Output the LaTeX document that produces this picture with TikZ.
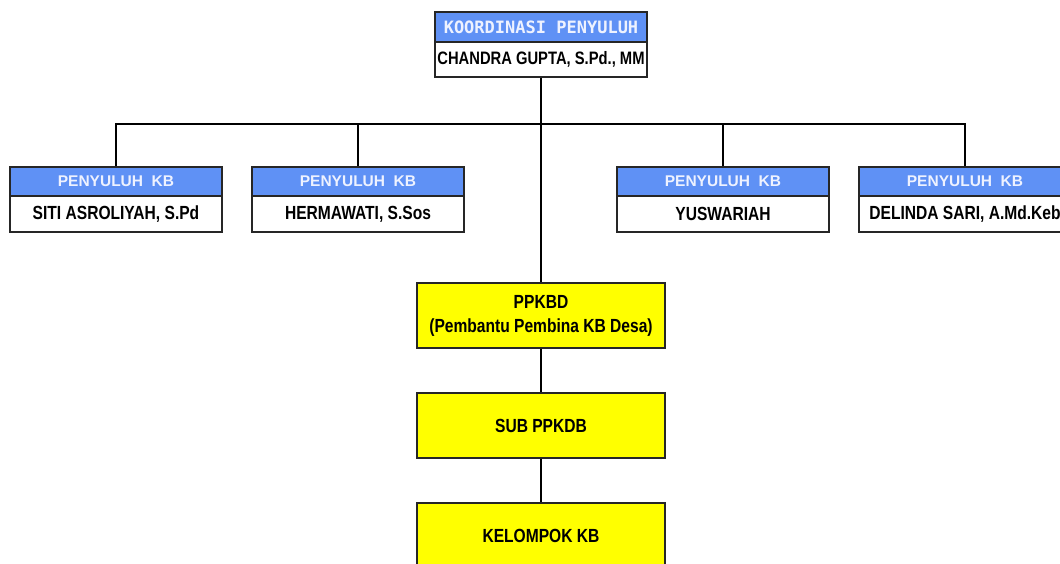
\documentclass[tikz,border=0pt]{standalone}
\usepackage{fontspec}
\newfontfamily\narrowsans[FakeStretch=0.82]{Liberation Sans}
\newfontfamily\headsans{Liberation Sans}
\newfontfamily\headmono{DejaVu Sans Mono}
\definecolor{headblue}{RGB}{95,145,245}
\definecolor{headtext}{RGB}{238,242,255}
\definecolor{boxyellow}{RGB}{255,255,0}
\tikzset{every node/.style={draw=black!85,line width=1.2pt,inner sep=0pt,minimum width=212pt},
  headbox/.style={fill=headblue,text=headtext,font=\headsans\bfseries\fontsize{15.5}{16}\selectfont,minimum height=29pt},
  namebox/.style={fill=white,font=\narrowsans\bfseries\fontsize{19}{20}\selectfont,minimum height=36pt},
  unitbox/.style={fill=boxyellow,font=\narrowsans\bfseries\fontsize{19}{24}\selectfont,align=center,minimum width=248pt,minimum height=65pt}}

\begin{document}
\begin{tikzpicture}[x=1pt,y=-1pt,line width=1.5pt]
  \useasboundingbox (0,0) rectangle (1060,563);
  \clip (0,0) rectangle (1060,563);
      \node[headbox,font=\headmono\bfseries\fontsize{17}{18}\selectfont,minimum height=30pt] (hk) at (541,27) {KOORDINASI PENYULUH};
      \node[namebox,font=\narrowsans\bfseries\fontsize{18}{19}\selectfont,minimum height=35pt] (bk) at (541,59.5) {CHANDRA GUPTA, S.Pd., MM};
      \node[headbox] (h1) at (116,181.5) {PENYULUH\ \ KB};
      \node[namebox] (b1) at (116,214) {SITI ASROLIYAH, S.Pd};
      \node[headbox] (h2) at (358,181.5) {PENYULUH\ \ KB};
      \node[namebox] (b2) at (358,214) {HERMAWATI, S.Sos};
      \node[headbox] (h3) at (723,181.5) {PENYULUH\ \ KB};
      \node[namebox] (b3) at (723,214) {YUSWARIAH};
      \node[headbox] (h4) at (965,181.5) {PENYULUH\ \ KB};
      \node[namebox] (b4) at (965,214) {DELINDA SARI, A.Md.Keb};
      \node[unitbox] (ppkbd) at (541,315.5) {PPKBD\\(Pembantu Pembina KB Desa)};
      \node[unitbox] (sub) at (541,425.5) {SUB PPKDB};
      \node[unitbox] (kel) at (541,535.5) {KELOMPOK KB};
      \coordinate (bar) at (541,124);

\draw (bk) -- (ppkbd);
\foreach \a in {h1,h2,h3,h4}
  \draw (\a.north) |- (bar);
\foreach \a/\b in {ppkbd/sub,sub/kel}
  \draw (\a) -- (\b);
    \end{tikzpicture}
\end{document}
